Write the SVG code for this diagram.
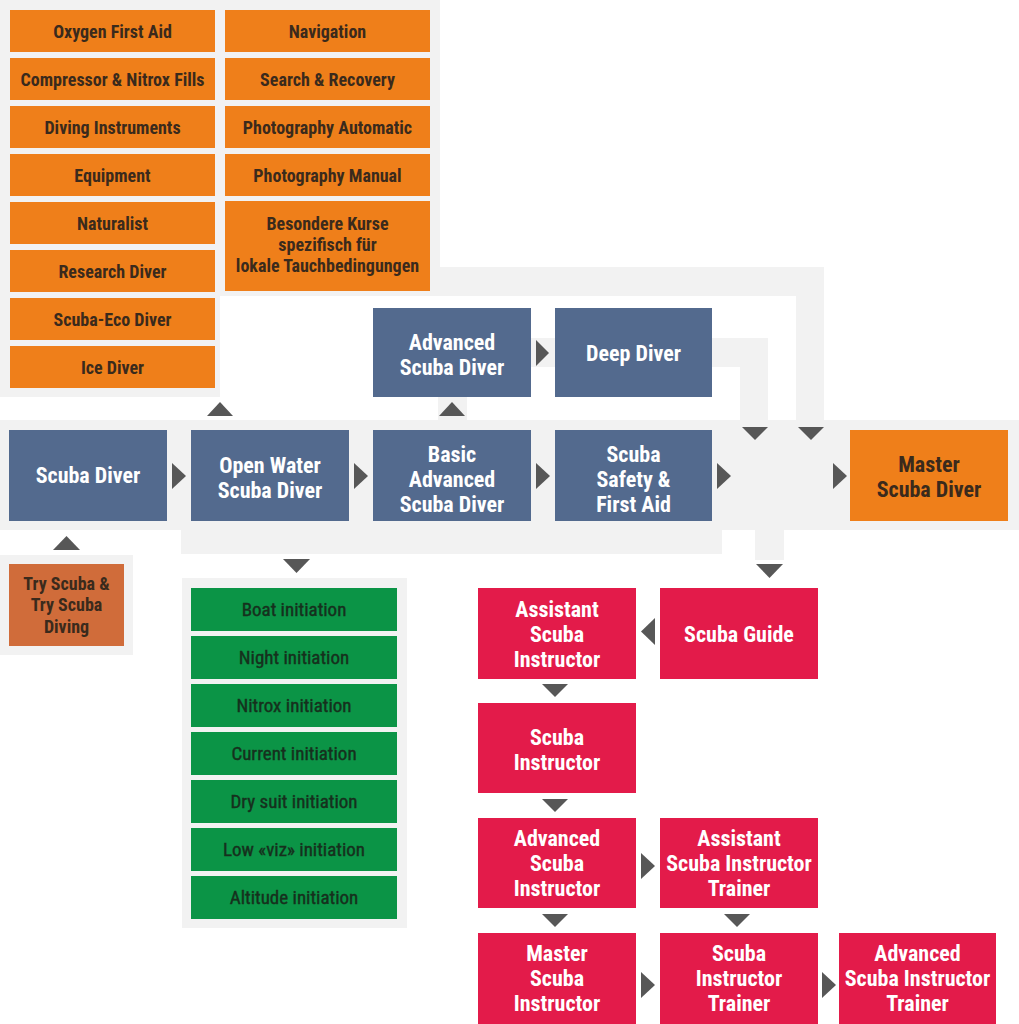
<svg xmlns="http://www.w3.org/2000/svg" width="1019" height="1024" viewBox="0 0 1019 1024">
<style>
text{font-family:"Liberation Sans Narrow","Roboto Condensed","Liberation Sans",Arial,sans-serif;font-weight:bold;text-anchor:middle}
.bg{fill:#f2f2f2}
.ar{fill:#575757}
.or{fill:#ef7f1a}
.bl{fill:#536a8e}
.gr{fill:#0b9446}
.rd{fill:#e31b4a}
.ts{fill:#d06c3a}
.to{font-size:18px;fill:#3a2a1c}
.tg{font-size:19px;font-weight:normal;fill:#16301d;stroke:#16301d;stroke-width:0.4}
.tw{font-size:22px;fill:#ffffff}
.tm{font-size:22px;fill:#3a2a1c}
</style>
<rect width="1019" height="1024" fill="#ffffff"/>
<g id="connectors">
<polygon class="bg" points="0,0 440,0 440,267 824,267 824,420 796,420 796,296 220,296 220,397 0,397"/>
<polygon class="bg" points="531,338 768,338 768,420 740,420 740,367 531,367"/>
<rect class="bg" x="438" y="397" width="29" height="23"/>
<polygon class="bg" points="0,420 1019,420 1019,530 784,530 784,560 755,560 755,530 722,530 722,554 181,554 181,530 0,530"/>
<rect class="bg" x="0" y="555" width="133" height="100"/>
<rect class="bg" x="182" y="578" width="225" height="350"/>
<polygon class="ar" points="207,416 233,416 220,402"/>
<polygon class="ar" points="439,416 465,416 452,402"/>
<polygon class="ar" points="536,340 549,353 536,366"/>
<polygon class="ar" points="742,427 768,427 755,440"/>
<polygon class="ar" points="798,427 824,427 811,440"/>
<polygon class="ar" points="172,463 186,476 172,489"/>
<polygon class="ar" points="354,463 368,476 354,489"/>
<polygon class="ar" points="536,463 550,476 536,489"/>
<polygon class="ar" points="717,463 731,476 717,489"/>
<polygon class="ar" points="833,463 847,476 833,489"/>
<polygon class="ar" points="53,550 80,550 66.5,536"/>
<polygon class="ar" points="283,559 310,559 296.5,573"/>
<polygon class="ar" points="756,564 783,564 769.5,578"/>
<polygon class="ar" points="655,618 641,631.5 655,645"/>
<polygon class="ar" points="542,684 568,684 555,697"/>
<polygon class="ar" points="542,799 568,799 555,812"/>
<polygon class="ar" points="641,853 655,866 641,879"/>
<polygon class="ar" points="542,914 568,914 555,927"/>
<polygon class="ar" points="724,914 750,914 737,927"/>
<polygon class="ar" points="641,972 655,985 641,998"/>
<polygon class="ar" points="822,972 836,985 822,998"/>
</g>
<g id="oxygen-first-aid"><rect class="or" x="10" y="10" width="205" height="42"/><text class="to" x="112.5" y="37.5">Oxygen First Aid</text></g>
<g id="compressor-nitrox"><rect class="or" x="10" y="58" width="205" height="42"/><text class="to" x="112.5" y="85.5">Compressor &amp; Nitrox Fills</text></g>
<g id="diving-instruments"><rect class="or" x="10" y="106" width="205" height="42"/><text class="to" x="112.5" y="133.5">Diving Instruments</text></g>
<g id="equipment"><rect class="or" x="10" y="154" width="205" height="42"/><text class="to" x="112.5" y="181.5">Equipment</text></g>
<g id="naturalist"><rect class="or" x="10" y="202" width="205" height="42"/><text class="to" x="112.5" y="229.5">Naturalist</text></g>
<g id="research-diver"><rect class="or" x="10" y="250" width="205" height="42"/><text class="to" x="112.5" y="277.5">Research Diver</text></g>
<g id="scuba-eco-diver"><rect class="or" x="10" y="298" width="205" height="42"/><text class="to" x="112.5" y="325.5">Scuba-Eco Diver</text></g>
<g id="ice-diver"><rect class="or" x="10" y="346" width="205" height="42"/><text class="to" x="112.5" y="373.5">Ice Diver</text></g>
<g id="navigation"><rect class="or" x="225" y="10" width="205" height="42"/><text class="to" x="327.5" y="37.5">Navigation</text></g>
<g id="search-recovery"><rect class="or" x="225" y="58" width="205" height="42"/><text class="to" x="327.5" y="85.5">Search &amp; Recovery</text></g>
<g id="photo-automatic"><rect class="or" x="225" y="106" width="205" height="42"/><text class="to" x="327.5" y="133.5">Photography Automatic</text></g>
<g id="photo-manual"><rect class="or" x="225" y="154" width="205" height="42"/><text class="to" x="327.5" y="181.5">Photography Manual</text></g>
<g id="besondere-kurse"><rect class="or" x="225" y="201" width="205" height="90"/><text class="to" x="327.5" y="230">Besondere Kurse</text><text class="to" x="327.5" y="251">spezifisch für</text><text class="to" x="327.5" y="272">lokale Tauchbedingungen</text></g>
<g id="advanced-scuba-diver"><rect class="bl" x="373" y="308" width="158" height="89"/><text class="tw" x="452" y="349.5">Advanced</text><text class="tw" x="452" y="374.5">Scuba Diver</text></g>
<g id="deep-diver"><rect class="bl" x="555" y="308" width="157" height="89"/><text class="tw" x="633.5" y="360.5">Deep Diver</text></g>
<g id="scuba-diver"><rect class="bl" x="9" y="430" width="158" height="91"/><text class="tw" x="88" y="482.5">Scuba Diver</text></g>
<g id="open-water"><rect class="bl" x="191" y="430" width="158" height="91"/><text class="tw" x="270" y="472.5">Open Water</text><text class="tw" x="270" y="497.5">Scuba Diver</text></g>
<g id="basic-advanced"><rect class="bl" x="373" y="430" width="158" height="91"/><text class="tw" x="452" y="461.5">Basic</text><text class="tw" x="452" y="486.5">Advanced</text><text class="tw" x="452" y="511.5">Scuba Diver</text></g>
<g id="scuba-safety"><rect class="bl" x="555" y="430" width="157" height="91"/><text class="tw" x="633.5" y="461.5">Scuba</text><text class="tw" x="633.5" y="486.5">Safety &amp;</text><text class="tw" x="633.5" y="511.5">First Aid</text></g>
<g id="master-scuba-diver"><rect class="or" x="850" y="430" width="158" height="91"/><text class="tm" x="929" y="471.5">Master</text><text class="tm" x="929" y="496.5">Scuba Diver</text></g>
<g id="try-scuba"><rect class="ts" x="9" y="564" width="115" height="82"/><text class="to" x="66.5" y="589.5">Try Scuba &amp;</text><text class="to" x="66.5" y="610.5">Try Scuba</text><text class="to" x="66.5" y="632.5">Diving</text></g>
<g id="boat-initiation"><rect class="gr" x="191" y="588" width="206" height="43"/><text class="tg" x="294" y="616">Boat initiation</text></g>
<g id="night-initiation"><rect class="gr" x="191" y="636" width="206" height="43"/><text class="tg" x="294" y="664">Night initiation</text></g>
<g id="nitrox-initiation"><rect class="gr" x="191" y="684" width="206" height="43"/><text class="tg" x="294" y="712">Nitrox initiation</text></g>
<g id="current-initiation"><rect class="gr" x="191" y="732" width="206" height="43"/><text class="tg" x="294" y="760">Current initiation</text></g>
<g id="dry-suit-initiation"><rect class="gr" x="191" y="780" width="206" height="43"/><text class="tg" x="294" y="808">Dry suit initiation</text></g>
<g id="low-viz-initiation"><rect class="gr" x="191" y="828" width="206" height="43"/><text class="tg" x="294" y="856">Low «viz» initiation</text></g>
<g id="altitude-initiation"><rect class="gr" x="191" y="876" width="206" height="43"/><text class="tg" x="294" y="904">Altitude initiation</text></g>
<g id="assistant-scuba-instructor"><rect class="rd" x="478" y="588" width="158" height="91"/><text class="tw" x="557" y="616.5">Assistant</text><text class="tw" x="557" y="641.5">Scuba</text><text class="tw" x="557" y="666.5">Instructor</text></g>
<g id="scuba-guide"><rect class="rd" x="660" y="588" width="158" height="91"/><text class="tw" x="739" y="641.5">Scuba Guide</text></g>
<g id="scuba-instructor"><rect class="rd" x="478" y="703" width="158" height="90"/><text class="tw" x="557" y="744.5">Scuba</text><text class="tw" x="557" y="769.5">Instructor</text></g>
<g id="advanced-scuba-instructor"><rect class="rd" x="478" y="818" width="158" height="90"/><text class="tw" x="557" y="845.5">Advanced</text><text class="tw" x="557" y="870.5">Scuba</text><text class="tw" x="557" y="895.5">Instructor</text></g>
<g id="assistant-scuba-instructor-trainer"><rect class="rd" x="660" y="818" width="158" height="90"/><text class="tw" x="739" y="845.5">Assistant</text><text class="tw" x="739" y="870.5">Scuba Instructor</text><text class="tw" x="739" y="895.5">Trainer</text></g>
<g id="master-scuba-instructor"><rect class="rd" x="478" y="933" width="158" height="91"/><text class="tw" x="557" y="960.5">Master</text><text class="tw" x="557" y="985.5">Scuba</text><text class="tw" x="557" y="1010.5">Instructor</text></g>
<g id="scuba-instructor-trainer"><rect class="rd" x="660" y="933" width="158" height="91"/><text class="tw" x="739" y="960.5">Scuba</text><text class="tw" x="739" y="985.5">Instructor</text><text class="tw" x="739" y="1010.5">Trainer</text></g>
<g id="advanced-scuba-instructor-trainer"><rect class="rd" x="839" y="933" width="157" height="91"/><text class="tw" x="917.5" y="960.5">Advanced</text><text class="tw" x="917.5" y="985.5">Scuba Instructor</text><text class="tw" x="917.5" y="1010.5">Trainer</text></g>
</svg>
